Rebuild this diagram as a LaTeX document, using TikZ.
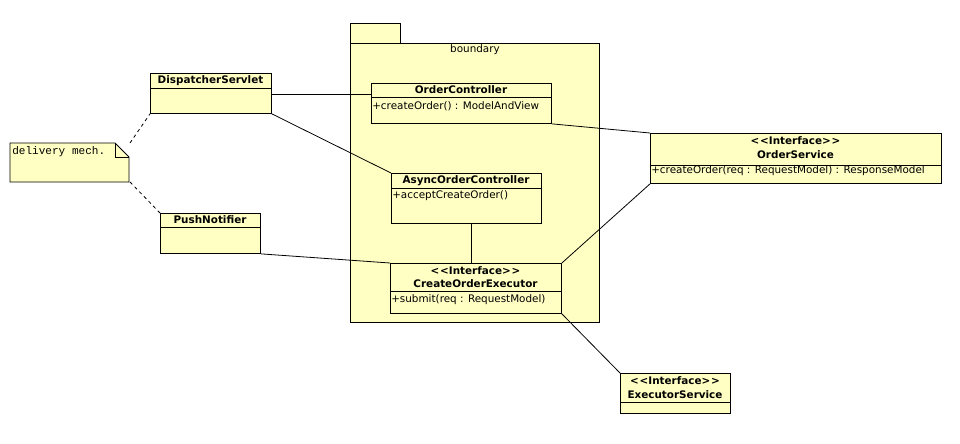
\documentclass[tikz,border=0pt]{standalone}
\usepackage{fontspec}
\setmainfont{DejaVu Sans}
\newfontfamily\notefont{Liberation Mono}
\usetikzlibrary{calc}
\definecolor{umlfill}{RGB}{255,255,196}
\newcommand\stereo{<\kern0.6pt<Interface>\kern0.6pt>}
\tikzset{
  clsbox/.style={draw=black, fill=umlfill, line width=0.65pt, rectangle, inner sep=0pt},
  sep/.style={line width=0.65pt},
  title/.style={font=\fontsize{7.8}{8}\selectfont\bfseries, inner sep=0pt},
  member/.style={font=\fontsize{7.8}{8}\selectfont, inner sep=0pt, anchor=west},
  conn/.style={line width=0.6pt},
  noteconn/.style={line width=0.6pt, dash pattern=on 2.5pt off 2.5pt},
}
\newcommand\umlrect[5]{\node[clsbox, minimum width=#4*0.75pt, minimum height=#5*0.75pt, anchor=north west] (#1) at (#2,#3) {};}
\begin{document}
\begin{tikzpicture}[x=0.75pt,y=-0.75pt]
\useasboundingbox (0,0) rectangle (960,443);
% package
\draw[clsbox] (350,23) rectangle (400,43);
\draw[clsbox] (350,43) rectangle (599,322);
\node[font=\fontsize{7.8}{8}\selectfont, inner sep=0pt] (pkglabel) at (475,50) {boundary};
% note
\coordinate (noteA) at (130,143);
\coordinate (noteB) at (130,182);
\draw[clsbox] (10,143) -- (115,143) -- (129,157) -- (129,182) -- (10,182) -- cycle;
\draw[sep] (115,143) -- (115,157) -- (129,157);
\node[font=\notefont\fontsize{8.3}{9}\selectfont, inner sep=0pt, anchor=west] (notetext) at (12,152) {delivery mech.};
% classes
\umlrect{ds}{150}{73}{121}{40}
\draw[sep] (150,88) -- (271,88);
\node[title] (dsT) at (210.5,80.5) {DispatcherServlet};

\umlrect{pn}{160}{213}{100}{40}
\draw[sep] (160,227) -- (260,227);
\node[title] (pnT) at (210,220) {PushNotifier};

\umlrect{oc}{371}{83}{180}{40}
\draw[sep] (371,97) -- (551,97);
\node[title] (ocT) at (461,90) {OrderController};
\node[member] (ocM) at (372,106) {+createOrder() : ModelAndView};

\umlrect{aoc}{391}{173}{150}{50}
\draw[sep] (391,188) -- (541,188);
\node[title] (aocT) at (466,180.5) {AsyncOrderController};
\node[member] (aocM) at (392,196) {+acceptCreateOrder()};

\umlrect{coe}{390}{263}{171}{50}
\draw[sep] (390,291) -- (561,291);
\node[title] (coeS) at (475.5,271) {\stereo};
\node[title] (coeT) at (475.5,284) {CreateOrderExecutor};
\node[member] (coeM) at (391,299.5) {+submit(req : RequestModel)};

\umlrect{os}{650}{133}{291}{50}
\draw[sep] (650,165) -- (941,165);
\node[title] (osS) at (795.5,141) {\stereo};
\node[title] (osT) at (795.5,154.5) {OrderService};
\node[member] (osM) at (651,171) {+createOrder(req : RequestModel) : ResponseModel};

\umlrect{es}{620}{373}{110}{40}
\draw[sep] (620,402) -- (730,402);
\node[title] (esS) at (675,381) {\stereo};
\node[title] (esT) at (675,394.5) {ExecutorService};

% connectors
\draw[conn] (ds.east |- 0,94) -- (oc.west |- 0,94);
\draw[conn] (ds.south east) -- (aoc.north west);
\draw[conn] (oc.south east) -- (os.north west);
\draw[conn] (os.south west) -- (coe.north east);
\draw[conn] (coe.south east) -- (es.north west);
\draw[conn] (pn.south east) -- (coe.north west);
\draw[conn] (aoc.south -| 471,0) -- (coe.north -| 471,0);
\draw[noteconn] (noteA) -- (ds.south west);
\draw[noteconn] (noteB) -- (pn.north west);
\end{tikzpicture}
\end{document}
